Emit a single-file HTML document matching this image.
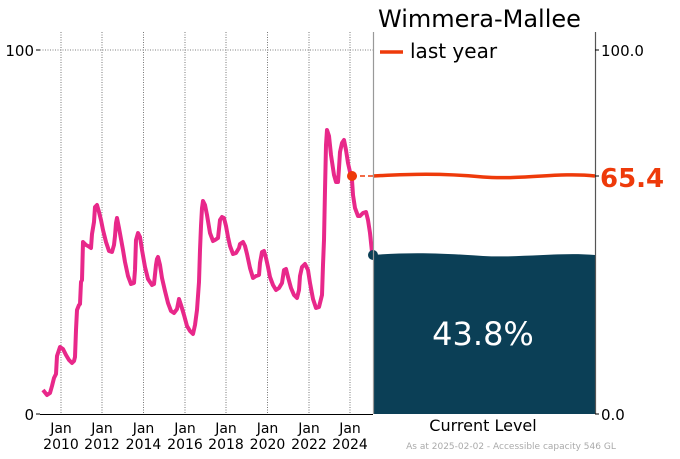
<!DOCTYPE html>
<html><head><meta charset="utf-8"><style>body{margin:0;background:#fff}svg{display:block}text{font-family:"DejaVu Sans","Liberation Sans",sans-serif}</style></head><body>
<svg width="680" height="459" viewBox="0 0 680 459" xmlns="http://www.w3.org/2000/svg">
<g stroke="#555" stroke-width="0.8" stroke-dasharray="1,1.5">
<line x1="40" y1="50" x2="373" y2="50"/>
<line x1="61" y1="32" x2="61" y2="414"/><line x1="102" y1="32" x2="102" y2="414"/><line x1="143.5" y1="32" x2="143.5" y2="414"/><line x1="185" y1="32" x2="185" y2="414"/><line x1="226" y1="32" x2="226" y2="414"/><line x1="267.5" y1="32" x2="267.5" y2="414"/><line x1="309" y1="32" x2="309" y2="414"/><line x1="350" y1="32" x2="350" y2="414"/>
</g>
<line x1="40" y1="414.5" x2="373" y2="414.5" stroke="#000" stroke-width="1"/>
<line x1="36" y1="50" x2="40" y2="50" stroke="#000"/><line x1="36" y1="414" x2="40" y2="414" stroke="#000"/>
<g font-size="15" text-anchor="end"><text x="34" y="56">100</text><text x="34" y="420">0</text></g>
<g font-size="14" text-anchor="middle">
<text x="61" y="433">Jan</text><text x="61" y="449">2010</text>
<text x="102" y="433">Jan</text><text x="102" y="449">2012</text>
<text x="143.5" y="433">Jan</text><text x="143.5" y="449">2014</text>
<text x="185" y="433">Jan</text><text x="185" y="449">2016</text>
<text x="226" y="433">Jan</text><text x="226" y="449">2018</text>
<text x="267.5" y="433">Jan</text><text x="267.5" y="449">2020</text>
<text x="309" y="433">Jan</text><text x="309" y="449">2022</text>
<text x="350" y="433">Jan</text><text x="350" y="449">2024</text>
</g>
<polyline fill="none" stroke="#e8288a" stroke-width="4" stroke-linejoin="round" points="43,390 47,395 50,393 52,386 54,378 56,374 57,356 60,347 63,349 66,355 69,360 72,363 74,361 75,357 76,330 77,310 79,305 80,304 81,282 82,280 83,242 86,245 88,246 91,248 92,234 94,222 95,207 97,205 99,212 101,220 103,230 106,242 109,251 112,252 114,245 115,236 116,223 117,218 119,228 121,239 123,250 125,262 128,276 131,284 134,283 135,270 136,240 138,233 140,237 142,250 145,267 148,279 152,285 154,284 156,265 157,259 158,257 160,265 162,278 165,291 168,303 171,311 174,313 177,309 179,299 181,305 184,315 187,326 190,331 193,334 195,325 197,310 199,282 200,250 201,226 202,208 203,201 205,205 207,215 210,233 213,241 215,240 218,238 219,229 220,220 222,217 224,218 226,226 228,237 230,246 233,254 236,253 239,248 240,244 243,242 245,246 247,254 250,268 253,278 256,276 259,275 260,263 262,252 264,251 266,258 268,267 270,277 273,285 276,290 279,288 282,283 284,270 286,269 288,277 291,288 294,295 297,298 299,290 300,276 302,267 305,264 308,270 310,283 313,299 316,308 319,307 322,295 323,265 324,240 325,190 326,145 327,130 329,136 331,155 334,175 336,182 338,182 339,168 340,152 342,143 344,140 346,150 348,163 350,172 352,180 353,195 355,208 358,216 360,216 363,213 366,212 368,220 370,233 372,252"/>
<line x1="352" y1="176" x2="373" y2="176" stroke="#ee3a0a" stroke-width="1.5" stroke-dasharray="5,3"/>
<circle cx="352" cy="176" r="5" fill="#ee3a0a"/>
<path d="M373,255 C410,252 440,253 483,256 C520,258 560,252 595,255 L595,414 L373,414 Z" fill="#0b3f56"/>
<circle cx="373" cy="255" r="5" fill="#0b3f56"/>
<path d="M373,176 C410,174 440,173 483,177 C520,180 560,172 595,176" fill="none" stroke="#ee3a0a" stroke-width="3.5"/>
<line x1="373.5" y1="32" x2="373.5" y2="414" stroke="#999" stroke-width="1.2"/>
<line x1="595.5" y1="32" x2="595.5" y2="414" stroke="#555" stroke-width="1.2"/>
<line x1="595" y1="50" x2="599" y2="50" stroke="#000"/><line x1="595" y1="414" x2="599" y2="414" stroke="#000"/><line x1="595" y1="176" x2="599" y2="176" stroke="#000"/>
<g font-size="15"><text x="601" y="56">100.0</text><text x="601" y="420">0.0</text></g>
<text x="600" y="187" font-size="26" font-weight="bold" fill="#ee3a0a">65.4</text>
<text x="378" y="27" font-size="24">Wimmera-Mallee</text>
<line x1="380" y1="52" x2="403" y2="52" stroke="#ee3a0a" stroke-width="3.5"/>
<text x="410" y="58" font-size="20">last year</text>
<text x="483" y="345" font-size="32" fill="#fff" text-anchor="middle">43.8%</text>
<text x="483" y="431" font-size="16" text-anchor="middle">Current Level</text>
<text x="511" y="449" font-size="9" fill="#aaa" text-anchor="middle">As at 2025-02-02 - Accessible capacity 546 GL</text>
</svg>
</body></html>
